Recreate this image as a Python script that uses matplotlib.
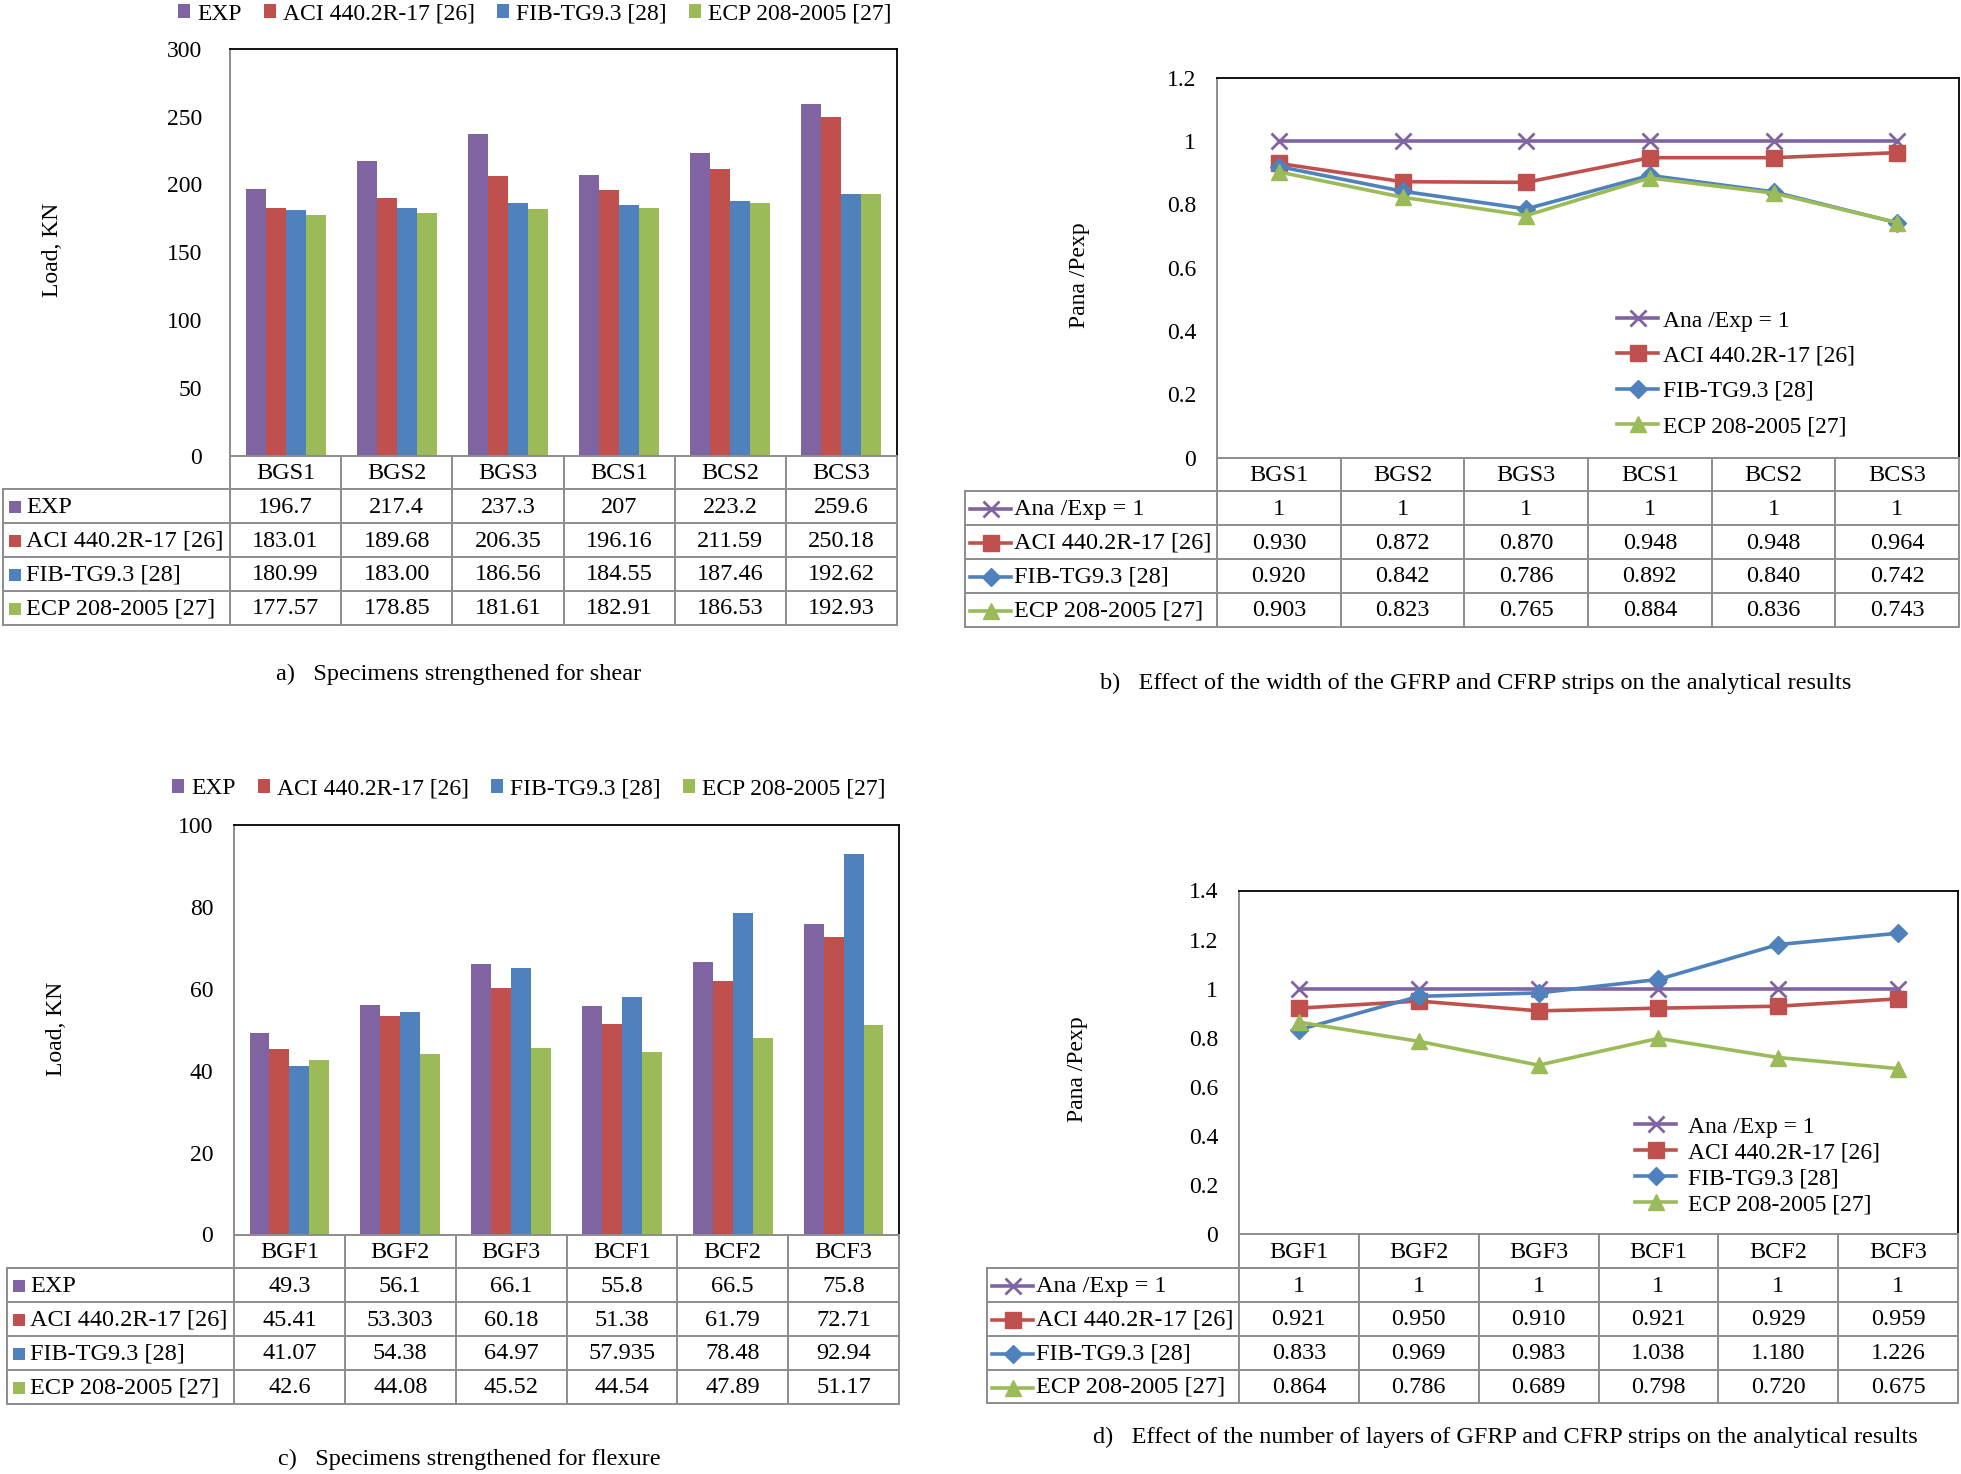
import matplotlib

matplotlib.use("Agg")
import matplotlib.pyplot as plt  # noqa: E402
import numpy as np  # noqa: E402

W, H = 1961, 1474
plt.rcParams["font.family"] = "serif"
plt.rcParams["font.serif"] = ["Liberation Serif", "DejaVu Serif"]
plt.rcParams["font.size"] = 17

C_PURPLE = "#8064A2"
C_RED = "#C0504D"
C_BLUE = "#4F81BD"
C_GREEN = "#9BBB59"
C_GRID = "#8C8C8C"
COLORS = [C_PURPLE, C_RED, C_BLUE, C_GREEN]

# -- Data (table text as printed; bars/lines read from the same strings) ---
BAR_SERIES = ["EXP", "ACI 440.2R-17 [26]", "FIB-TG9.3 [28]", "ECP 208-2005 [27]"]
RATIO_SERIES = ["Ana /Exp = 1", "ACI 440.2R-17 [26]", "FIB-TG9.3 [28]", "ECP 208-2005 [27]"]

shear_cats = ["BGS1", "BGS2", "BGS3", "BCS1", "BCS2", "BCS3"]
shear_exp = ["196.7", "217.4", "237.3", "207", "223.2", "259.6"]
shear_aci = ["183.01", "189.68", "206.35", "196.16", "211.59", "250.18"]
shear_fib = ["180.99", "183.00", "186.56", "184.55", "187.46", "192.62"]
shear_ecp = ["177.57", "178.85", "181.61", "182.91", "186.53", "192.93"]

flex_cats = ["BGF1", "BGF2", "BGF3", "BCF1", "BCF2", "BCF3"]
flex_exp = ["49.3", "56.1", "66.1", "55.8", "66.5", "75.8"]
flex_aci = ["45.41", "53.303", "60.18", "51.38", "61.79", "72.71"]
flex_fib = ["41.07", "54.38", "64.97", "57.935", "78.48", "92.94"]
flex_ecp = ["42.6", "44.08", "45.52", "44.54", "47.89", "51.17"]

width_ana = ["1", "1", "1", "1", "1", "1"]
width_aci = ["0.930", "0.872", "0.870", "0.948", "0.948", "0.964"]
width_fib = ["0.920", "0.842", "0.786", "0.892", "0.840", "0.742"]
width_ecp = ["0.903", "0.823", "0.765", "0.884", "0.836", "0.743"]

layer_ana = ["1", "1", "1", "1", "1", "1"]
layer_aci = ["0.921", "0.950", "0.910", "0.921", "0.929", "0.959"]
layer_fib = ["0.833", "0.969", "0.983", "1.038", "1.180", "1.226"]
layer_ecp = ["0.864", "0.786", "0.689", "0.798", "0.720", "0.675"]

MARKERS = [("x", 11, 2.0), ("s", 11, 1.0), ("D", 9, 1.0), ("^", 11, 1.0)]
TABLE_FS = 17.5
CAPTION_FS = 17.5

fig = plt.figure(figsize=(W / 100, H / 100), dpi=100)

# overlay axes in pixel units for tables, labels and captions
ov = fig.add_axes([0, 0, 1, 1], zorder=5)
ov.set_xlim(0, W)
ov.set_ylim(H, 0)
ov.axis("off")


def px_axes(left, top, right, bottom):
    return fig.add_axes([left / W, 1 - bottom / H, (right - left) / W, (bottom - top) / H])


def style_axes(ax, ymax, step, pad):
    ax.set_xlim(-0.5, 5.5)
    ax.set_ylim(0, ymax)
    ticks = np.round(np.arange(0, ymax + step / 2, step), 3)
    ax.set_yticks(ticks)
    ax.set_yticklabels([f"{t:g}" for t in ticks])
    ax.set_xticks([])
    ax.tick_params(axis="y", length=0, pad=pad, labelsize=17)
    for side in ("left", "bottom"):
        ax.spines[side].set_color(C_GRID)
        ax.spines[side].set_linewidth(1.4)
    for side in ("top", "right"):
        ax.spines[side].set_color("black")
        ax.spines[side].set_linewidth(1.3)


def draw_table(cats, labels, rows, left, plot_l, plot_r, top, row_h, kind):
    n = len(cats)
    col_w = (plot_r - plot_l) / n
    bottom = top + row_h * (len(rows) + 1)
    for k in range(1, len(rows) + 2):
        y = top + k * row_h
        ov.plot([left, plot_r], [y, y], color=C_GRID, lw=1.4, solid_capstyle="butt")
    ov.plot([left, left], [top + row_h, bottom], color=C_GRID, lw=1.4)
    for j in range(n + 1):
        x = plot_l + j * col_w
        ov.plot([x, x], [top, bottom], color=C_GRID, lw=1.4)
    for j, c in enumerate(cats):
        ov.text(plot_l + (j + 0.5) * col_w, top + 0.5 * row_h + 1, c, ha="center", va="center",
                fontsize=TABLE_FS)
    for i, (lab, vals) in enumerate(zip(labels, rows)):
        yc = top + (i + 1.5) * row_h + 1
        if kind == "bar":
            ov.plot([left + 12], [yc], marker="s", ms=8.5, color=COLORS[i], mew=0)
            tx = left + 23
        else:
            m, ms, mew = MARKERS[i]
            ov.plot([left + 5, left + 46], [yc, yc], color=COLORS[i], lw=2.6)
            ov.plot([left + 25.5], [yc], marker=m, ms=ms, mew=mew, color=COLORS[i])
            tx = left + 49
        ov.text(tx, yc, lab, ha="left", va="center", fontsize=TABLE_FS)
        for j, v in enumerate(vals):
            ov.text(plot_l + (j + 0.5) * col_w, yc, v, ha="center", va="center",
                    fontsize=TABLE_FS)


def bar_panel(box, cats, rows, ymax, step, pad, table_left, legend_xy, ylabel_xy, caption,
              caption_xy):
    left, top, right, bottom = box
    ax = px_axes(left, top, right, bottom)
    x = np.arange(len(cats))
    w = 0.18
    for i, vals in enumerate(rows):
        ax.bar(x + (i - 1.5) * w, [float(v) for v in vals], width=w, color=COLORS[i],
               edgecolor="none", label=BAR_SERIES[i])
    style_axes(ax, ymax, step, pad)
    ax.legend(loc="center left", bbox_to_anchor=(legend_xy[0] / W, 1 - legend_xy[1] / H),
              bbox_transform=fig.transFigure, ncol=4, frameon=False, handlelength=0.5,
              handleheight=0.5, handletextpad=0.3, columnspacing=0.95, borderpad=0,
              borderaxespad=0, fontsize=17)
    row_h = 33.8
    draw_table(cats, BAR_SERIES, rows, table_left, left, right, bottom, row_h, "bar")
    ov.text(ylabel_xy[0], ylabel_xy[1], "Load, KN", rotation=90, ha="center", va="center")
    ov.text(caption_xy[0], caption_xy[1], caption, ha="center", va="center", fontsize=CAPTION_FS)


def line_panel(box, cats, rows, ymax, step, table_left, legend_xy, lspacing, lpad, ylabel_xy,
               caption, caption_xy):
    left, top, right, bottom = box
    ax = px_axes(left, top, right, bottom)
    x = np.arange(len(cats))
    for i, vals in enumerate(rows):
        m, ms, mew = MARKERS[i]
        ax.plot(x, [float(v) for v in vals], color=COLORS[i], lw=2.6, marker=m, ms=ms, mew=mew,
                label=RATIO_SERIES[i], clip_on=False)
    style_axes(ax, ymax, step, 15)
    ax.legend(loc="upper left", bbox_to_anchor=(legend_xy[0] / W, 1 - legend_xy[1] / H),
              bbox_transform=fig.transFigure, frameon=False, handlelength=1.75,
              handletextpad=lpad, labelspacing=lspacing, borderpad=0, borderaxespad=0,
              fontsize=17)
    row_h = 33.8
    draw_table(cats, RATIO_SERIES, rows, table_left, left, right, bottom, row_h, "line")
    ov.text(ylabel_xy[0], ylabel_xy[1], "Pana /Pexp", rotation=90, ha="center", va="center")
    ov.text(caption_xy[0], caption_xy[1], caption, ha="center", va="center", fontsize=CAPTION_FS)


# a) shear
bar_panel((230, 49, 897, 455.5), shear_cats, [shear_exp, shear_aci, shear_fib, shear_ecp],
          300, 50, 20, 3, (178, 14), (52, 250), "a)   Specimens strengthened for shear",
          (459, 674))

# b) width effect
line_panel((1217, 78, 1959, 457.5), shear_cats, [width_ana, width_aci, width_fib, width_ecp],
           1.2, 0.2, 965, (1617, 310), 0.58, 0.2, (1080, 275),
           "b)   Effect of the width of the GFRP and CFRP strips on the analytical results",
           (1476, 683))

# c) flexure
bar_panel((234, 825, 899, 1234.5), flex_cats, [flex_exp, flex_aci, flex_fib, flex_ecp],
          100, 20, 15, 7, (172, 789), (57, 1029), "c)   Specimens strengthened for flexure",
          (469, 1459))

# d) layers effect
line_panel((1239, 890.5, 1958, 1234.4), flex_cats, [layer_ana, layer_aci, layer_fib, layer_ecp],
           1.4, 0.2, 987, (1635, 1116), 0.19, 0.5, (1077, 1069),
           "d)   Effect of the number of layers of GFRP and CFRP strips on the analytical results",
           (1505, 1437))

fig.savefig("out.png", dpi=100)
plt.close(fig)
